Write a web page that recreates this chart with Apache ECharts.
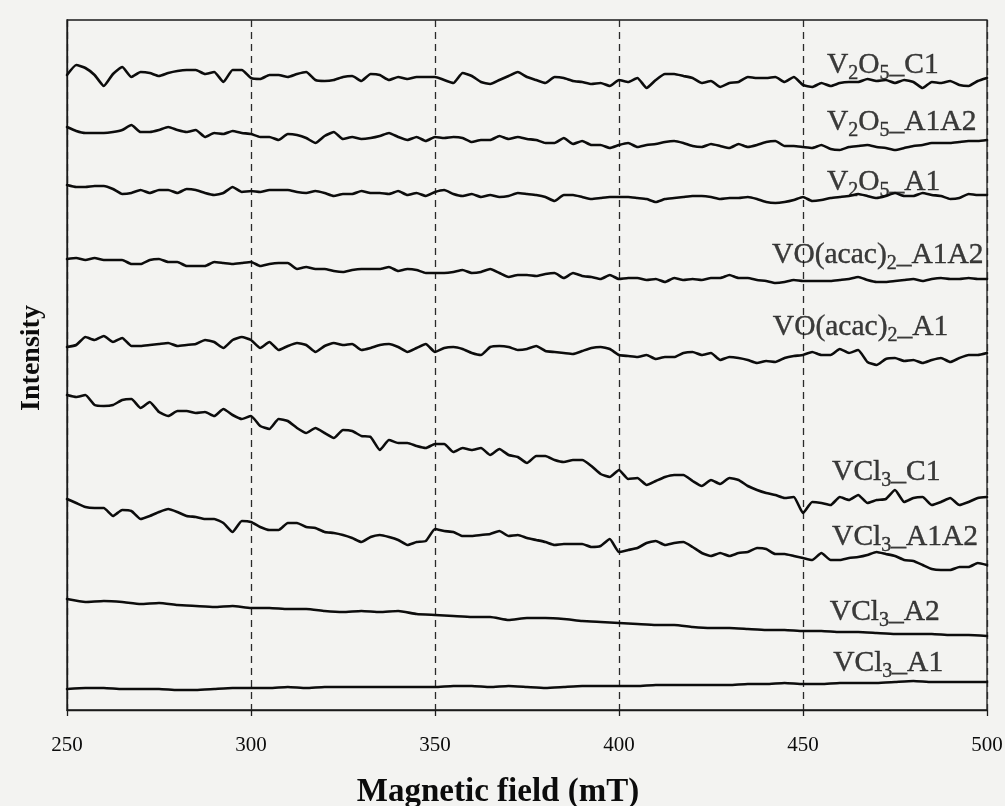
<!DOCTYPE html>
<html>
<head>
<meta charset="utf-8">
<script src="https://cdn.jsdelivr.net/npm/echarts@6/dist/echarts.min.js"></script>
<style>
  html, body { margin: 0; padding: 0; background: #f3f3f1; }
  #chart { width: 1005px; height: 806px; }
</style>
</head>
<body>
<div id="chart"></div>
<script>
// Magnetic field sampling grids (mT)
const fieldFine = [];   // 2.5 mT steps for the noisy spectra
for (let b = 250; b <= 500; b += 2.5) fieldFine.push(b);
const fieldCoarse = []; // 5 mT steps for the flat spectra
for (let b = 250; b <= 500; b += 5) fieldCoarse.push(b);

const fieldTicks = [250, 300, 350, 400, 450, 500];

// Stacked EPR spectra, intensity in arbitrary (offset) units
const V2O5_C1 = [
  635,645,642,635,624,636,643,633,638,637,
  634,637,639,640,640,636,638,628,640,640,
  632,631,635,635,633,636,638,630,629,630,
  633,634,629,636,635,630,633,631,633,633,
  633,630,627,637,634,628,626,630,634,638,
  633,630,627,633,632,629,628,626,627,624,
  630,628,632,622,630,636,636,634,632,627,
  629,623,627,628,633,632,632,633,628,633,
  625,623,627,624,627,628,628,631,629,630,
  627,630,628,622,628,627,629,625,624,629,
  632];
const V2O5_A1A2 = [
  583,579,577,577,577,578,580,585,578,578,
  580,583,580,578,580,573,577,576,579,577,
  576,573,573,570,576,575,572,567,574,578,
  571,573,571,572,574,577,573,570,573,569,
  573,572,573,572,568,570,570,574,571,573,
  571,570,567,567,572,566,569,565,565,562,
  565,567,563,565,566,568,569,567,564,563,
  566,564,562,566,563,565,568,569,564,564,
  563,562,565,561,560,563,564,565,563,562,
  560,562,564,565,567,567,567,568,569,569,
  570];
const V2O5_A1 = [
  525,523,523,524,524,521,516,517,520,517,
  520,520,517,521,520,517,515,517,523,518,
  519,518,520,520,520,518,517,519,517,514,
  516,516,519,517,517,516,519,515,517,514,
  518,520,516,514,516,513,515,513,514,517,
  516,515,513,509,515,515,513,511,512,513,
  513,513,512,511,508,511,512,513,514,514,
  513,511,512,512,513,511,508,507,508,510,
  513,509,510,512,513,514,516,514,512,514,
  517,514,514,517,515,514,511,512,516,515,
  515];
const VOacac2_A1A2 = [
  451,452,450,452,450,450,450,446,446,450,
  451,448,448,444,444,444,448,447,446,447,
  448,444,446,447,447,441,443,441,441,439,
  438,440,441,441,441,443,439,441,440,437,
  437,437,438,440,437,438,441,437,433,435,
  435,434,436,437,432,437,434,433,431,435,
  431,432,432,430,431,428,432,430,431,430,
  432,432,435,432,432,430,429,427,428,430,
  429,429,429,429,430,431,433,430,428,428,
  429,430,431,429,431,432,431,431,432,431,
  431];
const VOacac2_A1 = [
  363,365,373,370,374,368,372,364,364,365,
  366,367,364,365,366,370,368,362,370,373,
  370,362,368,360,364,367,365,358,364,367,
  365,366,360,362,365,366,363,358,362,366,
  358,362,363,361,357,355,363,364,363,360,
  361,364,359,358,357,356,359,362,363,361,
  355,354,353,355,351,353,353,357,358,355,
  357,350,353,352,350,347,349,348,352,354,
  355,358,355,355,361,357,360,348,345,351,
  352,349,350,347,350,352,348,352,355,355,
  357];
const VCl3_C1 = [
  315,313,315,305,304,305,310,311,302,308,
  298,294,299,299,297,298,294,301,295,291,
  294,284,281,291,289,282,277,282,277,272,
  280,279,274,273,260,270,267,267,264,262,
  266,266,258,262,260,262,255,261,255,253,
  247,254,254,250,248,250,250,244,236,233,
  240,231,232,225,229,233,235,235,229,224,
  230,226,232,230,224,220,217,215,212,213,
  197,208,207,205,213,210,215,207,210,211,
  220,208,212,213,205,208,212,205,208,212,
  213];
const VCl3_A1A2 = [
  211,207,203,202,202,194,200,199,191,194,
  198,201,198,194,193,191,191,187,178,189,
  188,183,180,180,187,187,183,182,178,177,
  175,172,168,173,175,173,170,165,168,169,
  181,179,178,174,174,175,176,179,174,175,
  172,170,168,165,166,166,166,163,164,171,
  158,160,162,167,169,165,167,168,163,157,
  154,157,154,157,158,162,161,156,156,154,
  152,150,157,150,150,152,153,155,158,156,
  154,150,149,145,141,140,140,143,143,147,
  145];
const VCl3_A2 = [
  111,108,109,108,106,107,105,104,103,104,
  102,102,101,101,99,98,99,98,99,96,
  95,94,93,93,90,92,92,91,89,88,
  87,86,85,85,83,82,82,81,80,80,
  79,79,78,78,77,76,76,76,75,75,
  74];
const VCl3_A1 = [
  21,22,22,21,21,21,20,20,21,22,
  22,22,23,22,23,23,23,23,23,23,
  23,24,24,23,24,23,22,23,24,24,
  24,24,25,25,25,25,25,26,26,27,
  26,26,27,27,27,28,29,28,28,28,
  28];

// Sample labels (rich text: {s|..} is a subscript)
const sampleLabels = [
  'V{s|2}O{s|5}_C1', 'V{s|2}O{s|5}_A1A2', 'V{s|2}O{s|5}_A1',
  'VO(acac){s|2}_A1A2', 'VO(acac){s|2}_A1',
  'VCl{s|3}_C1', 'VCl{s|3}_A1A2', 'VCl{s|3}_A2', 'VCl{s|3}_A1'
];
// where each label starts (field, intensity)
const labelAnchors = [
  [456.5, 645], [456.5, 588], [456.5, 528],
  [441.6, 455], [441.8, 383],
  [457.9, 238], [457.9, 173], [457.3, 98], [458.2, 47]
];

const spectra = [
  { name: 'V2O5_C1', field: fieldFine, y: V2O5_C1 },
  { name: 'V2O5_A1A2', field: fieldFine, y: V2O5_A1A2 },
  { name: 'V2O5_A1', field: fieldFine, y: V2O5_A1 },
  { name: 'VO(acac)2_A1A2', field: fieldFine, y: VOacac2_A1A2 },
  { name: 'VO(acac)2_A1', field: fieldFine, y: VOacac2_A1 },
  { name: 'VCl3_C1', field: fieldFine, y: VCl3_C1 },
  { name: 'VCl3_A1A2', field: fieldFine, y: VCl3_A1A2 },
  { name: 'VCl3_A2', field: fieldCoarse, y: VCl3_A2 },
  { name: 'VCl3_A1', field: fieldCoarse, y: VCl3_A1 }
];

const serif = '"Liberation Serif", "Times New Roman", serif';
const ink = '#0c0c0c';

const lineSeries = spectra.map(s => ({
  name: s.name,
  type: 'line',
  showSymbol: false,
  smooth: 0.15,
  silent: true,
  data: s.field.map((b, i) => [b, s.y[i]]),
  lineStyle: { color: ink, width: 2.6, join: 'round', cap: 'round' },
  z: 3
}));

const labelSeries = {
  type: 'scatter',
  symbolSize: 0,
  silent: true,
  z: 5,
  data: labelAnchors.map((p, i) => ({ value: p, name: sampleLabels[i] })),
  label: {
    show: true,
    position: 'right',
    distance: 0,
    formatter: p => p.name,
    fontFamily: serif,
    fontSize: 29.5,
    lineHeight: 38,
    color: ink,
    textBorderColor: ink,
    textBorderWidth: 0.4,
    rich: {
      s: {
        fontFamily: serif, fontSize: 20, lineHeight: 20, verticalAlign: 'bottom',
        color: ink, textBorderColor: ink, textBorderWidth: 0.4
      }
    }
  }
};

const chart = echarts.init(document.getElementById('chart'), null, { renderer: 'canvas' });
chart.setOption({
  backgroundColor: '#f3f3f1',
  animation: false,
  grid: {
    left: 67, right: 18, top: 20, bottom: 96,
    containLabel: false,
    outerBoundsMode: 'none',
    show: true, borderColor: '#1a1a1a', borderWidth: 1.3, backgroundColor: 'transparent'
  },
  xAxis: {
    type: 'value',
    min: fieldTicks[0],
    max: fieldTicks[fieldTicks.length - 1],
    interval: fieldTicks[1] - fieldTicks[0],
    name: 'Magnetic field (mT)',
    nameLocation: 'middle',
    nameGap: 66,
    nameTextStyle: { fontFamily: serif, fontWeight: 'bold', fontSize: 33, color: ink, padding: [0, 58, 0, 0] },
    axisLine: { show: true, onZero: false, lineStyle: { color: '#1a1a1a', width: 1.3 } },
    axisTick: { show: true, inside: false, length: 6, lineStyle: { color: '#1a1a1a', width: 1.3 } },
    axisLabel: { fontFamily: serif, fontSize: 21, color: ink, margin: 25 },
    splitLine: { show: true, lineStyle: { color: '#2a2a2a', width: 1.3, type: [7, 5] } }
  },
  yAxis: {
    type: 'value',
    min: 0,
    max: 690,
    name: 'Intensity',
    nameLocation: 'middle',
    nameGap: 21,
    nameTextStyle: { fontFamily: serif, fontWeight: 'bold', fontSize: 28, color: ink, padding: [0, 0, 0, 14] },
    axisLine: { show: true, lineStyle: { color: '#1a1a1a', width: 1.3 } },
    axisTick: { show: false },
    axisLabel: { show: false },
    splitLine: { show: false }
  },
  series: [...lineSeries, labelSeries]
});
</script>
</body>
</html>
